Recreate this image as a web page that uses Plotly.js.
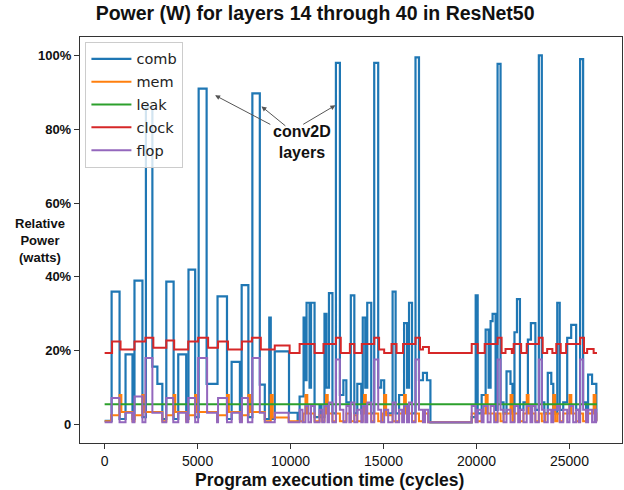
<!DOCTYPE html>
<html>
<head>
<meta charset="utf-8">
<script src="https://cdn.plot.ly/plotly-3.0.1.min.js"></script>
<style>html,body{margin:0;padding:0;background:#fff;}#chart{width:624px;height:490px;}</style>
</head>
<body>
<div id="chart"></div>
<script>
// ---- Data (cycles, % relative power); step series ----
const seriesNames = ["comb", "mem", "leak", "clock", "flop"];

const combX = [0,375,803,1124,1498,1605,2033,2220,2568,2836,3103,3317,3710,3959,4387,4510,4869,5056,5485,6072,6580,6830,7276,7370,7730,7945,8346,8614,8854,8935,9149,9916,10379,
  10486,10700,10780,10860,11020,11100,11290,11556,11663,11824,11930,12064,12252,12439,12653,12840,13000,13241,13429,13589,13803,13883,14017,14124,14338,14499,14713,14873,15034,15488,15649,15836,16104,16264,16371,16532,16719,16906,17120,17334,17521,
  19742,19956,20063,20277,20491,20651,20758,20865,21026,21133,21293,21454,21614,21828,21935,22042,22176,22336,22524,22764,22925,23166,23353,23513,23647,23834,24022,24129,24343,24476,24664,24878,25092,25359,25573,25734,25894,26001,26215,26445,26480];
const combY = [1,36,1.5,19,1.5,39,2,86,15.7,11,1.5,38.7,1.5,19,1.5,42,2,91,11,34.7,1.5,17,1.5,37.8,2,89.7,10.8,1.5,29,1.5,19.8,3.2,1,
  7.6,29,12,33,10,33,2,5,2,30,10,35.6,3,98,8,12,6,35,3,11,3,29,10,33,3,98,10,12,3,36,3,8,27.5,10,33,3,99.5,12,14,12,0.6,
  2,35,3,8,25.7,10,28,30,4,97.7,6,3,14.4,11,3,25,34,4,6,23,27.5,4,100,6,3,14,11,3,33,4,6,23.5,27,4,99,6,3,13.5,11,1,1];

const memX = [0,350,803,900,1498,1605,2033,2130,3103,3317,3710,3800,4387,4494,4869,4960,6046,6099,6580,6680,7276,7383,7730,7830,8614,8935,9040,9898,
  10700,10800,10900,11290,11560,11700,11824,11900,12000,12252,12439,12653,13000,13241,13429,13589,13883,13950,14050,14338,14499,14713,14950,15034,15140,15488,15836,16104,16200,16532,16719,16906,17120,17400,
  19742,19956,20277,20491,20600,21026,21133,21293,21454,21830,21935,22042,22336,22524,22700,22800,23166,23353,23513,23700,24129,24230,24343,24476,24664,25000,25100,25359,25573,25734,25894,26300,26400,26445,26480];
const memY = [0.9,2.5,8,3.4,0.9,2.5,8,3.4,0.9,2.5,8,3.4,0.9,2.5,8,3.4,0.9,2.5,8,3.4,0.9,2.5,8,3.4,0.9,8,1.9,0.9,
  3,8,3,0.9,2.5,0.9,3,8,3,0.9,3,0.9,3,0.9,2.5,0.9,3,8,3,0.9,3,0.9,3,8,2.5,0.9,3,8,3,0.9,3,0.9,3,0.6,
  3,0.9,3,8,3,0.9,3,0.9,3,8,0.9,3,0.9,3,8,3,0.9,3,0.9,3,8,0.9,3,0.9,3,8,3,0.9,3,0.9,3,8,3,0.9,0.9];

const leakX = [0, 26480];
const leakY = [5.5, 5.5];

const clockX = [0,400,856,1605,2190,2620,3317,3740,4494,5029,5565,6099,6634,7383,7920,8400,9149,9950,
  10486,11290,11770,12439,12700,13190,13430,13830,14499,14760,15034,15430,15700,16050,16719,16960,17120,17440,
  19742,20063,20440,21133,21350,21560,21900,22000,22400,22700,23353,23560,23800,24080,24290,24530,24820,25573,25780,25950,26300,26480];
const clockY = [19.4,22.5,20.3,22.5,23.5,20.8,22.8,20.3,22.5,23.5,20.8,22.5,20.3,22.5,23.5,20.3,21.4,19.4,
  21.8,19.4,21.8,23.5,19.4,21.8,19.4,21.8,23.5,20.3,19.4,21.8,19.4,21.8,23.5,20.3,21,19.4,
  21.8,19.4,21.8,23.5,19.4,20.5,19.4,21.8,19.4,21.8,23.5,19.4,20.5,19.4,21.8,19.4,21.8,23.5,19.4,20.5,19.4,19.4];

const flopX = [0,375,803,1124,1498,1605,2033,2194,2568,3103,3317,3692,3959,4387,4494,4869,5029,5511,6046,6099,6581,6832,7276,7383,7704,7945,8346,8614,9149,9898,
  10486,10640,10800,10960,11100,11290,11560,11700,11824,11990,12064,12252,12439,12653,12840,13000,13160,13241,13429,13589,13803,13883,14017,14124,14338,14499,14713,14873,15034,15250,15488,15649,15836,16000,16104,16264,16371,16532,16719,16906,17120,17230,17400,
  19742,19956,20063,20277,20380,20600,20758,20950,21133,21293,21454,21614,21828,22042,22240,22336,22524,22700,22900,23000,23166,23353,23513,23647,23834,24022,24129,24343,24476,24664,24878,25000,25200,25359,25500,25573,25734,25894,26001,26215,26350,26445,26480];
const flopY = [0.6,7.2,0.6,3.2,0.6,7.6,0.6,18,3.2,0.6,7.2,0.6,3.2,0.6,7.2,0.6,18,3.2,0.6,7.2,0.6,3.2,0.6,7.2,0.6,18,3.2,0.6,3.2,0.6,
  4,0.6,5,0.6,5,0.6,4,0.6,5,0.6,6,0.6,17.6,4,0.6,5,0.6,6,0.6,4,0.6,5,0.6,6,0.6,17.6,4,0.6,4,0.6,6,0.6,4,0.6,5,0.6,6,0.6,17.6,4,0.6,4,0.6,
  5,0.6,4,0.6,5,0.6,5,0.6,17.6,4,0.6,4,0.6,5,0.6,4,0.6,5,0.6,5,0.6,17.6,4,0.6,4,0.6,4,5,0.6,4,0.6,5,0.6,4,0.6,17.6,4,0.6,4,0.6,4,0.6,0.6];

const xTicks = [0, 5000, 10000, 15000, 20000, 25000];
const yTicks = [0, 20, 40, 60, 80, 100];
const yTickText = ["0", "20%", "40%", "60%", "80%", "100%"];

const colors = ["#1f77b4", "#ff7f0e", "#2ca02c", "#d62728", "#9467bd"];
const xs = [combX, memX, leakX, clockX, flopX];
const ys = [combY, memY, leakY, clockY, flopY];

const traces = seriesNames.map((n, i) => ({
  type: "scatter", mode: "lines", name: n, legendgroup: n,
  x: xs[i], y: ys[i],
  line: {color: colors[i], width: i === 0 ? 2.2 : 2, shape: "hv"}
}));

const axisFont = {family: "Liberation Sans, Arial, sans-serif", color: "#111"};
const arrowStyle = {showarrow: true, arrowhead: 2, arrowsize: 1, arrowwidth: 1, arrowcolor: "#555",
  axref: "x", ayref: "y", xref: "x", yref: "y", text: ""};

const layout = {
  width: 624, height: 490,
  margin: {l: 80, r: 2, t: 37, b: 47},
  paper_bgcolor: "#fff", plot_bgcolor: "#fff",
  title: {text: "<b>Power (W) for layers 14 through 40 in ResNet50</b>",
    font: {family: "Liberation Sans, Arial, sans-serif", size: 19.5, color: "#111"},
    x: 0.505, xanchor: "center", y: 0.974, yanchor: "middle"},
  xaxis: {range: [-1325, 27825], tickvals: xTicks, ticktext: xTicks.map(String),
    showline: true, mirror: true, linecolor: "#333", linewidth: 1.2, showgrid: false, zeroline: false,
    ticks: "outside", ticklen: 5, tickcolor: "#333", tickfont: Object.assign({size: 14}, axisFont)},
  yaxis: {range: [-5, 105], tickvals: yTicks, ticktext: yTickText.map(t => "<b>" + t + "</b>"),
    showline: true, mirror: true, linecolor: "#333", linewidth: 1.2, showgrid: false, zeroline: false,
    ticks: "outside", ticklen: 5, tickcolor: "#333", tickfont: Object.assign({size: 13}, axisFont)},
  showlegend: true,
  legend: {x: 0.01, y: 0.988, xanchor: "left", yanchor: "top",
    bgcolor: "rgba(255,255,255,0.8)", bordercolor: "#ccc", borderwidth: 1,
    font: {family: "DejaVu Sans, sans-serif", size: 14.5, color: "#222"}, tracegroupgap: 1, itemwidth: 40},
  annotations: [
    {xref: "paper", yref: "paper", x: -0.074, y: 0.5, xanchor: "center", yanchor: "middle",
      text: "<b>Relative<br>Power<br>(watts)</b>", showarrow: false,
      font: Object.assign({size: 13}, axisFont)},
    {xref: "paper", yref: "paper", x: 0.461, y: -0.091, xanchor: "center", yanchor: "middle",
      text: "<b>Program execution time (cycles)</b>", showarrow: false,
      font: Object.assign({size: 17.5}, axisFont)},
    {xref: "x", yref: "y", x: 10593, y: 76.5, text: "<b>conv2D<br>layers</b>", showarrow: false,
      font: Object.assign({size: 16}, axisFont)},
    Object.assign({x: 5939, y: 89.2, ax: 8990, ay: 81.1}, arrowStyle),
    Object.assign({x: 8437, y: 86.2, ax: 9800, ay: 80.6}, arrowStyle),
    Object.assign({x: 12412, y: 86.5, ax: 10600, ay: 81.1}, arrowStyle)
  ]
};

Plotly.newPlot("chart", traces, layout, {staticPlot: true, displayModeBar: false});
</script>
</body>
</html>
